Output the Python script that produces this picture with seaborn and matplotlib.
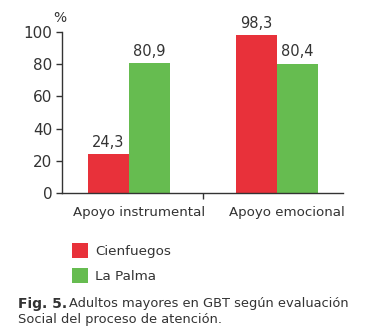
import matplotlib
matplotlib.use("Agg")
import matplotlib.pyplot as plt
import seaborn as sns
import pandas as pd

categories = ["Apoyo instrumental", "Apoyo emocional"]
series = ["Cienfuegos", "La Palma"]
cienfuegos = [24.3, 98.3]
la_palma = [80.9, 80.4]
yticks = [0, 20, 40, 60, 80, 100]

colors = {"Cienfuegos": "#E8313A", "La Palma": "#66BC50"}
text_color = "#333333"

df = pd.DataFrame({
    "categoria": categories * 2,
    "serie": [series[0]] * len(categories) + [series[1]] * len(categories),
    "valor": cienfuegos + la_palma,
})

sns.set_style("white")
plt.rcParams["font.family"] = ["DejaVu Sans"]

fig = plt.figure(figsize=(3.65, 3.34), dpi=100)
ax = fig.add_axes([62 / 365, 1 - 193 / 334, 281 / 365, 161 / 334])

sns.barplot(data=df, x="categoria", y="valor", hue="serie", order=categories,
            hue_order=series, palette=colors, width=0.554, saturation=1,
            linewidth=0, legend=False, ax=ax)

for cont in ax.containers:
    labels = [f"{v:.1f}".replace(".", ",") for v in cont.datavalues]
    ax.bar_label(cont, labels=labels, padding=3, fontsize=10.5,
                 color=text_color, clip_on=False)

ax.set_xlim(-0.453, 1.446)
ax.set_ylim(0, 100)
ax.set_yticks(yticks)
ax.set_yticklabels([str(t) for t in yticks], fontsize=11, color=text_color)
ax.set_xticks([0.5])
ax.set_xticklabels([""])
ax.tick_params(axis="y", direction="out", length=4, width=1, color="#333333", pad=3, left=True)
ax.tick_params(axis="x", direction="out", length=4, width=1, color="#333333", bottom=True)
ax.set_xlabel("")
ax.set_ylabel("")
for s in ["top", "right"]:
    ax.spines[s].set_visible(False)
for s in ["left", "bottom"]:
    ax.spines[s].set_color("#333333")
    ax.spines[s].set_linewidth(1)

# category names sit slightly right of the bar-group centres
for i, c in enumerate(categories):
    ax.text(i + 0.066, -(213 - 193) / 161, c, transform=ax.get_xaxis_transform(),
            ha="center", va="center", fontsize=9.6, color=text_color)

fig.text(53 / 365, 1 - 18 / 334, "%", fontsize=10, color=text_color,
         ha="left", va="center")

# legend squares and labels
for j, s in enumerate(series):
    yc = 250 + j * 25
    fig.patches.append(plt.Rectangle((72 / 365, 1 - (yc + 7.5) / 334),
                                     16 / 365, 15 / 334, transform=fig.transFigure,
                                     facecolor=colors[s], edgecolor="none"))
    fig.text(95 / 365, 1 - (yc + 1) / 334, s, fontsize=9.7, color=text_color,
             ha="left", va="center")

fig.text(18 / 365, 1 - 304 / 334, "Fig. 5.", fontsize=10, fontweight="bold",
         color=text_color, ha="left", va="center")
fig.text(69 / 365, 1 - 304 / 334, "Adultos mayores en GBT según evaluación",
         fontsize=9.4, color=text_color, ha="left", va="center")
fig.text(18 / 365, 1 - 320 / 334, "Social del proceso de atención.",
         fontsize=9.4, color=text_color, ha="left", va="center")

fig.savefig("out.png", dpi=100)
